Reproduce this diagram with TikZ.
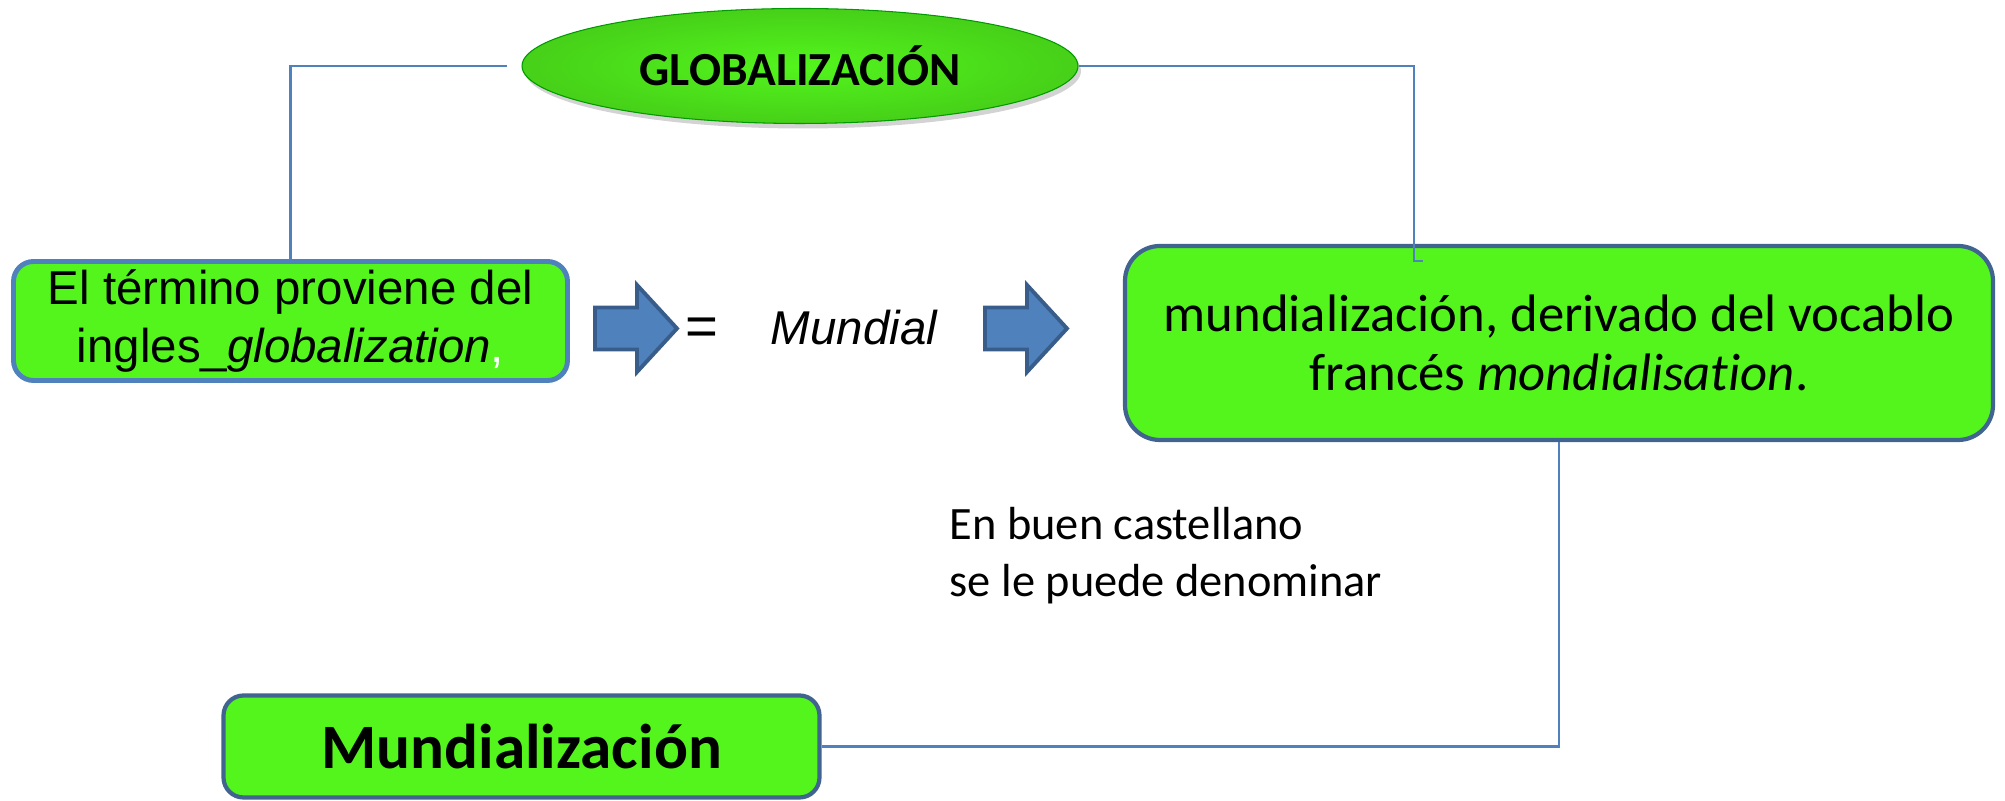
\documentclass[tikz,border=0pt]{standalone}
\usepackage{fontspec}
\setmainfont{Liberation Sans}
\newfontfamily\calibri[Ligatures=NoCommon]{Carlito}
\usetikzlibrary{shapes.geometric,shadows}

\definecolor{boxgreen}{HTML}{53F51D}
\definecolor{linkblue}{HTML}{4F81BD}
\definecolor{boxedge}{HTML}{40648F}
\definecolor{arrowblue}{HTML}{4F81BD}
\definecolor{arrowedge}{HTML}{385D8A}

\tikzset{
    greenbox/.style={draw=boxedge, line width=1.2pt, fill=boxgreen, rounded corners=0.25cm, align=center, inner sep=0pt},
    link/.style={draw=linkblue, line width=0.6pt},
    pics/bluearrow/.style={code={
        \draw[arrowedge, fill=arrowblue, line width=1.1pt, line join=miter]
            (-0.41,0.21) -- (0.01,0.21) -- (0.01,0.435) -- (0.41,0) -- (0.01,-0.435) -- (0.01,-0.21) -- (-0.41,-0.21) -- cycle;
    }}
}

\begin{document}
\begin{tikzpicture}
    \useasboundingbox (0,0) rectangle (20.05,-8.01);
    \node[ellipse, shading=radial, inner color=boxgreen, outer color=boxgreen!85!black, draw=green!60!black, line width=0.3pt, drop shadow={shadow xshift=0.03cm, shadow yshift=-0.05cm, opacity=0.35}, minimum width=5.56cm, minimum height=1.15cm, inner sep=0pt] (glob) at (8.00,-0.66) {\calibri\bfseries\fontsize{13.5}{16}\selectfont GLOBALIZACIÓN};
    \node[greenbox, draw=linkblue, line width=1.4pt, rounded corners=0.2cm, minimum width=5.54cm, minimum height=1.19cm, font=\fontsize{13.5}{16.5}\selectfont] (termino) at (2.905,-3.21) {El término proviene del\\ingles\_\textit{globalization}\textcolor{white}{,}};
    \pic (flecha1) at (6.36,-3.285) {bluearrow};
    \node[font=\fontsize{16}{18}\selectfont] (igual) at (7.02,-3.32) {=};
    \node[font=\fontsize{13.5}{16}\selectfont\itshape] (mundialword) at (8.54,-3.28) {Mundial};
    \pic (flecha2) at (10.26,-3.285) {bluearrow};
    \node[greenbox, rounded corners=0.35cm, minimum width=8.68cm, minimum height=1.94cm, font=\calibri\fontsize{15}{17}\selectfont] (mundializacion) at (15.59,-3.43) {mundialización, derivado del vocablo\\francés \textit{mondialisation}.};
    \node[align=left, anchor=west, inner sep=0pt, font=\calibri\fontsize{13.2}{16.2}\selectfont] (castellano) at (9.49,-5.56) {En buen castellano\\se le puede denominar};
    \node[greenbox, rounded corners=0.2cm, minimum width=5.96cm, minimum height=1.02cm, font=\calibri\bfseries\fontsize{18}{20}\selectfont] (mundial) at (5.215,-7.465) {Mundialización};
    \coordinate (tick) at (14.14,-2.61);
    \draw[link] ([xshift=-0.14cm]glob.west) -| (termino.north);
    \draw[link] (glob.east) -| (tick) -- ++(0.09,0);
    \draw[link] (mundializacion.south) |- (mundial.east);
\end{tikzpicture}
\end{document}
